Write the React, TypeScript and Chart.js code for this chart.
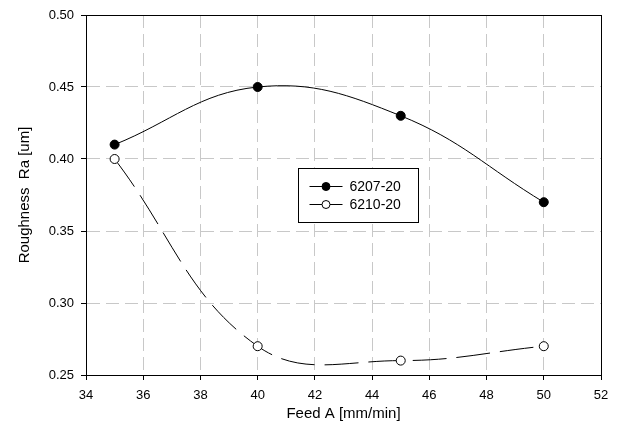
import React, { useEffect, useRef } from "react";
import { Chart, registerables } from "chart.js";

Chart.register(...registerables);

const feed = [35, 40, 45, 50];
const series6207 = [0.41, 0.45, 0.43, 0.37];
const series6210 = [0.4, 0.27, 0.26, 0.27];
const seriesNames = ["6207-20", "6210-20"];
const xTitle = "Feed A [mm/min]";
const yTitle = "Roughness  Ra [um]";

const FONT = "'Liberation Sans', Arial, Helvetica, sans-serif";

const framePlugin = {
  id: "frame",
  beforeDatasetsDraw(chart: any) {
    const { ctx, chartArea } = chart;
    ctx.save();
    ctx.strokeStyle = "#000";
    ctx.lineWidth = 1;
    ctx.setLineDash([]);
    ctx.strokeRect(
      Math.round(chartArea.left) + 0.5,
      Math.round(chartArea.top) + 0.5,
      Math.round(chartArea.right - chartArea.left),
      Math.round(chartArea.bottom - chartArea.top)
    );
    ctx.restore();
  },
};

const legendPlugin = {
  id: "boxLegend",
  afterDraw(chart: any) {
    const { ctx, chartArea } = chart;
    const left = Math.round(chartArea.left + 212) + 0.5;
    const top = Math.round(chartArea.top + 153) + 0.5;
    const w = 120;
    const h = 54;
    ctx.save();
    ctx.setLineDash([]);
    ctx.fillStyle = "#fff";
    ctx.fillRect(left, top, w, h);
    ctx.strokeStyle = "#000";
    ctx.lineWidth = 1;
    ctx.strokeRect(left, top, w, h);
    chart.data.datasets.forEach((ds: any, i: number) => {
      const y = top + 18 + i * 18;
      const x0 = left + 11;
      const x1 = left + 44;
      ctx.beginPath();
      ctx.moveTo(x0, y);
      ctx.lineTo(x1, y);
      ctx.strokeStyle = "#000";
      ctx.stroke();
      ctx.beginPath();
      ctx.arc((x0 + x1) / 2, y, 4, 0, Math.PI * 2);
      ctx.fillStyle = ds.pointBackgroundColor;
      ctx.fill();
      ctx.stroke();
      ctx.fillStyle = "#000";
      ctx.font = `14px ${FONT}`;
      ctx.textBaseline = "middle";
      ctx.textAlign = "left";
      ctx.fillText(ds.label, left + 51, y + 1);
    });
    ctx.restore();
  },
};

export default function App() {
  const ref = useRef<HTMLCanvasElement | null>(null);

  useEffect(() => {
    if (!ref.current) return;
    const chart = new Chart(ref.current, {
      type: "line",
      data: {
        datasets: [
          {
            label: seriesNames[0],
            data: feed.map((x, i) => ({ x, y: series6207[i] })),
            borderColor: "#000",
            borderWidth: 1,
            pointRadius: 4.5,
            pointBackgroundColor: "#000",
            pointBorderColor: "#000",
            pointBorderWidth: 1,
            tension: 0.4,
            fill: false,
          },
          {
            label: seriesNames[1],
            data: feed.map((x, i) => ({ x, y: series6210[i] })),
            borderColor: "#000",
            borderWidth: 1,
            borderDash: [34, 10],
            pointRadius: 4.5,
            pointBackgroundColor: "#fff",
            pointBorderColor: "#000",
            pointBorderWidth: 1,
            tension: 0.4,
            fill: false,
          },
        ],
      },
      options: {
        animation: false,
        responsive: false,
        devicePixelRatio: 1,
        layout: { padding: { top: 15, right: 17, left: 0, bottom: 0 } },
        elements: { line: { capBezierPoints: false } },
        plugins: {
          legend: { display: false },
          tooltip: { enabled: false },
        },
        scales: {
          x: {
            type: "linear",
            min: 34,
            max: 52,
            afterFit: (s: any) => {
              s.height = 60;
            },
            ticks: {
              stepSize: 2,
              color: "#000",
              padding: 8,
              font: { family: FONT, size: 13 },
            },
            grid: {
              color: "#c8c8c8",
              tickColor: "#000",
              tickBorderDash: [],
              tickLength: 5,
              drawTicks: true,
            } as any,
            border: { display: true, color: "#000", width: 1, dash: [13, 6] },
            title: {
              display: true,
              text: xTitle,
              color: "#000",
              font: { family: FONT, size: 15 },
              padding: { top: 0, bottom: 12 },
            },
          },
          y: {
            type: "linear",
            min: 0.25,
            max: 0.5,
            afterFit: (s: any) => {
              s.width = 86;
            },
            ticks: {
              stepSize: 0.05,
              color: "#000",
              padding: 7,
              font: { family: FONT, size: 13 },
              callback: (v: any) => Number(v).toFixed(2),
            },
            grid: {
              color: "#c8c8c8",
              tickColor: "#000",
              tickBorderDash: [],
              tickLength: 5,
              drawTicks: true,
            } as any,
            border: { display: true, color: "#000", width: 1, dash: [13, 6] },
            title: {
              display: true,
              text: yTitle,
              color: "#000",
              font: { family: FONT, size: 15 },
              padding: { top: 16, bottom: 0 },
            },
          },
        },
      },
      plugins: [framePlugin, legendPlugin],
    });
    return () => chart.destroy();
  }, []);

  return (
    <div style={{ position: "absolute", left: 0, top: 0, width: 618, height: 435, background: "#fff" }}>
      <canvas ref={ref} width={618} height={435} style={{ display: "block" }} />
    </div>
  );
}
